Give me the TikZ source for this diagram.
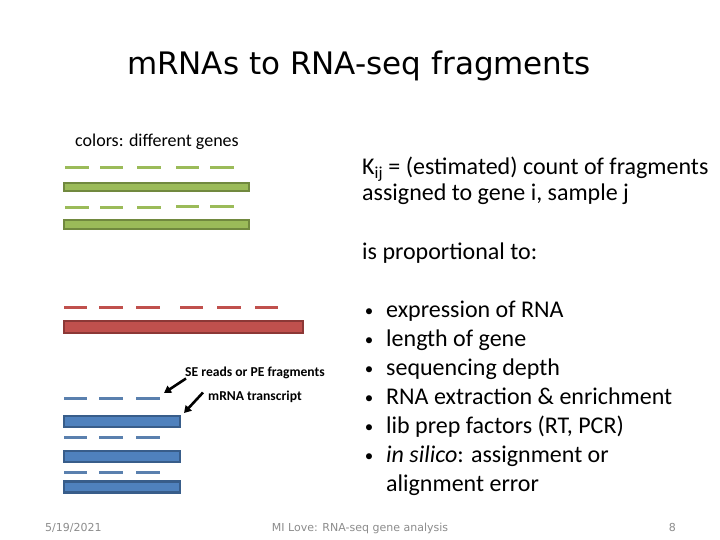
\documentclass[tikz,border=0pt]{standalone}
\usepackage{fontspec}
\setmainfont{Carlito}
\newfontfamily\titlefont{DejaVu Sans}
\usetikzlibrary{arrows.meta}
\definecolor{gfill}{HTML}{9BBB59}
\definecolor{gline}{HTML}{71893F}
\definecolor{rfill}{HTML}{C0504D}
\definecolor{rline}{HTML}{8C3836}
\definecolor{bfill}{HTML}{4F81BD}
\definecolor{bline}{HTML}{385D8A}
\definecolor{bdashc}{HTML}{5A80AE}
\definecolor{footgray}{HTML}{8C8C8C}
\tikzset{
  bar/.style={draw, line width=2.2pt, inner sep=0pt, rectangle},
  gbar/.style={bar, fill=gfill, draw=gline, minimum width=185pt, minimum height=8.5pt},
  rbar/.style={bar, fill=rfill, draw=rline, minimum width=239pt, minimum height=12pt},
  bbar/.style={bar, fill=bfill, draw=bline, minimum width=116pt, minimum height=11pt},
  frag/.style={line width=3pt},
  gdash/.style={frag, draw=gfill},
  rdash/.style={frag, draw=rfill},
  bdash/.style={frag, draw=bdashc},
  txt/.style={inner sep=0pt, anchor=base west, font=\fontsize{24}{28}\selectfont},
  bul/.style={inner sep=0pt, anchor=base, font=\fontsize{17}{20}\selectfont},
  small/.style={inner sep=0pt, anchor=base west, font=\fontsize{13.6}{15}\selectfont\bfseries},
  foot/.style={inner sep=0pt, anchor=base west, text=footgray, font=\titlefont\fontsize{11}{13}\selectfont},
  bigarrow/.style={line width=2.6pt, -{Triangle[length=7pt,width=8pt]}}
}
\begin{document}
\begin{tikzpicture}[x=1pt,y=-1pt]
\useasboundingbox (0,0) rectangle (720,540);
\fill[white] (0,0) rectangle (720,540);

% title
\node[inner sep=0pt, anchor=base, font=\titlefont\fontsize{31}{36}\selectfont] (title) at (359,75) {mRNAs to RNA-seq fragments};

% left caption
\node[inner sep=0pt, anchor=base west, font=\fontsize{18}{21}\selectfont] (colors) at (75,147) {colors: different genes};

% green
\foreach \a/\b in {65/89,100/123,137/161,176/199,210/234} \draw[gdash] (\a,168) -- (\b,168);
\node[gbar] (g1) at (156.5,187) {};
\foreach \a/\b/\y in {65/89/208,100/123/208,137/161/208,176/199/207,210/234/207} \draw[gdash] (\a,\y) -- (\b,\y);
\node[gbar] (g2) at (156.5,224.5) {};

% red
\foreach \a/\b in {64/87,99/123,136/160,180/203,217/241,255/278} \draw[rdash] (\a,307) -- (\b,307);
\node[rbar] (r1) at (183.5,327) {};

% blue
\foreach \y in {398,437,472} \foreach \a/\b in {64/87,99/123,136/160} \draw[bdash] (\a,\y) -- (\b,\y);
\node[bbar] (b1) at (122,421.5) {};
\node[bbar] (b2) at (122,456.5) {};
\node[bbar] (b3) at (122,487) {};

% labels and arrows
\node[small] (se) at (185,376.5) {SE reads or PE fragments};
\node[small] (mr) at (208,400.5) {mRNA transcript};
\coordinate (seT) at (186,378.5);
\coordinate (seH) at (164,393);
\coordinate (mrT) at (203,392.5);
\coordinate (mrH) at (184,413);
\draw[bigarrow] (seT) -- (seH);
\draw[bigarrow] (mrT) -- (mrH);

% right text
\node[txt] (k1) at (362,175) {K\textsubscript{ij} = (estimated) count of fragments};
\node[txt] (k2) at (362,201) {assigned to gene i, sample j};
\node[txt] (k3) at (362,259) {is proportional to:};

\foreach \y/\t [count=\i] in {317/expression of RNA,346/length of gene,375/sequencing depth,404/RNA extraction \& enrichment,433/lib prep factors (RT{,} PCR)}{
  \node[bul] (bu\i) at (369,\y-1) {•};
  \node[txt] (it\i) at (386,\y) {\t};
}
\node[bul] (bu6) at (369,461) {•};
\node[txt] (it6) at (386,462) {\textit{in silico}: assignment or};
\node[txt] (it7) at (386,491) {alignment error};

% footer
\node[foot] (date) at (45,531) {5/19/2021};
\node[foot, anchor=base] (ftitle) at (360,531) {MI Love: RNA-seq gene analysis};
\node[foot, anchor=base east] (page) at (676,531) {8};
\end{tikzpicture}
\end{document}
